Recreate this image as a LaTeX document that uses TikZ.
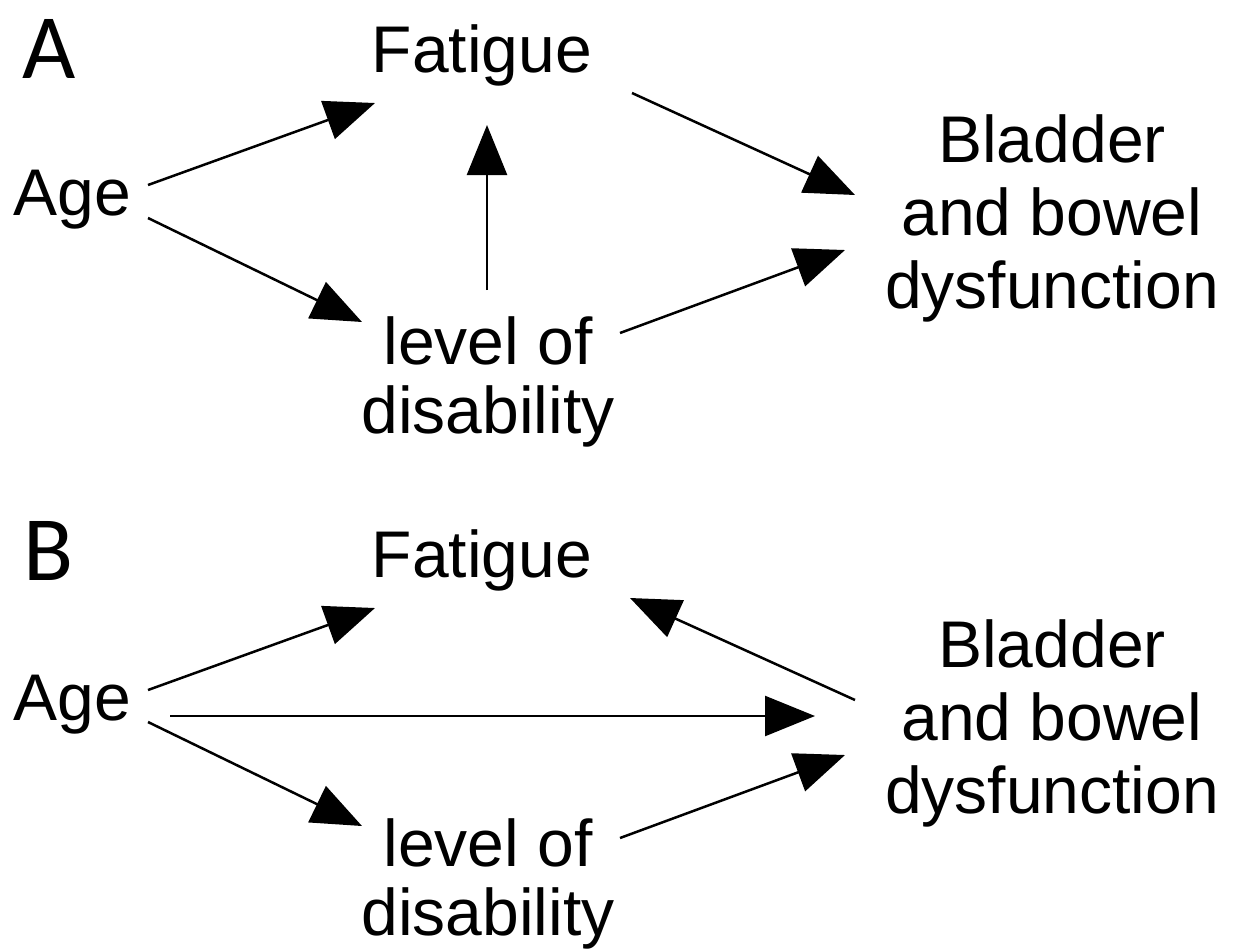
\documentclass[tikz,border=0pt]{standalone}
\usepackage{fontspec}
\setmainfont{Liberation Sans}
\newfontfamily\panelfont{Carlito}
\usetikzlibrary{arrows.meta,calc}
\tikzset{
  lbl/.style={inner sep=0pt, align=center, font=\fontsize{66}{73}\selectfont},
  lvl/.style={lbl, font=\fontsize{66}{69}\selectfont},
  panel/.style={inner sep=0pt, anchor=base west, font=\panelfont\fontsize{92}{96}\selectfont},
  arr/.style={line width=2.5pt, -{Triangle[length=50pt,width=40pt]}}
}
\begin{document}
\begin{tikzpicture}[x=1pt,y=-1pt]
\useasboundingbox (0,0) rectangle (1238,951);
% Panel A
\node[panel] (pA) at (22,78) {A};
\node[lbl] (ageA) at (72,200) {Age};
\node[lbl] (fatA) at (482,55) {Fatigue};
\node[lvl] (levA) at (488,382) {level of\\disability};
\node[lbl] (bladA) at (1052,218) {Bladder\\and bowel\\dysfunction};
\draw[arr] ($(ageA)+(76,-15)$) -- ($(fatA)+(-107,48)$);
\draw[arr] ($(ageA)+(76,18)$) -- ($(levA)+(-126,-60)$);
\draw[arr] ($(levA)+(-1,-92)$) -- ($(fatA)+(5,70)$);
\draw[arr] ($(fatA)+(150,38)$) -- ($(bladA)+(-197,-23)$);
\draw[arr] ($(levA)+(132,-49)$) -- ($(bladA)+(-207,32)$);
% Panel B
\node[panel] (pB) at (23,580) {B};
\node[lbl] (ageB) at (72,705) {Age};
\node[lbl] (fatB) at (482,560) {Fatigue};
\node[lvl] (levB) at (488,884) {level of\\disability};
\node[lbl] (bladB) at (1052,723) {Bladder\\and bowel\\dysfunction};
\draw[arr] ($(ageB)+(76,-15)$) -- ($(fatB)+(-107,48)$);
\draw[arr] ($(ageB)+(98,11)$) -- ($(bladB)+(-237,-7)$);
\draw[arr] ($(ageB)+(76,17)$) -- ($(levB)+(-126,-58)$);
\draw[arr] ($(bladB)+(-197,-23)$) -- ($(fatB)+(148,38)$);
\draw[arr] ($(levB)+(132,-46)$) -- ($(bladB)+(-207,32)$);
\end{tikzpicture}
\end{document}
